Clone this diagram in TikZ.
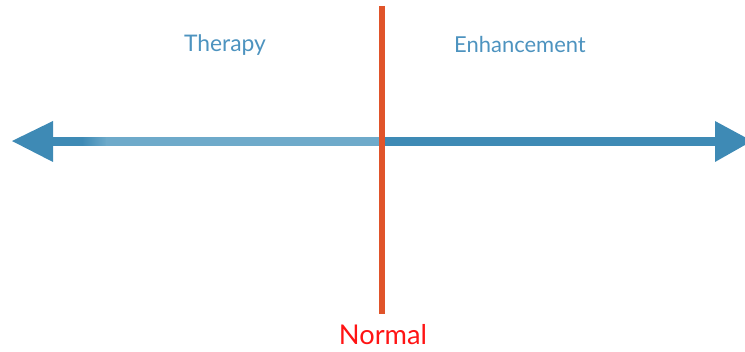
\documentclass[tikz,border=0pt]{standalone}
\usepackage{fontspec}
\setmainfont{Lato}
\definecolor{axisdark}{RGB}{62,138,181}
\definecolor{axislight}{RGB}{110,170,202}
\definecolor{labelblue}{RGB}{77,147,191}
\definecolor{normline}{RGB}{224,84,42}
\definecolor{normtext}{RGB}{255,20,20}

\begin{document}
\begin{tikzpicture}[x=0.02cm, y=0.02cm]
    \useasboundingbox (0,0) rectangle (745,352);
    \clip (0,0) rectangle (745,352);

    % Ends of the axis and of the divider
    \coordinate (lefttip) at (12,211);
    \coordinate (righttip) at (752,211);
    \coordinate (top) at (382,346);
    \coordinate (bottom) at (382,38);

    % Left half of the shaft: dark near the head, fading to light
    \fill[axisdark] (50,206) rectangle (83,215);
    \foreach \i in {0,...,24} {
        \pgfmathtruncatemacro{\pct}{100-4*\i}
        \fill[axisdark!\pct!axislight] (82+\i,206) rectangle (83.5+\i,215);
    }
    \fill[axislight] (106,206) rectangle (382,215);
    % Right half of the shaft
    \fill[axisdark] (382,206) rectangle (718,215);

    % Arrow heads
    \fill[axisdark] (lefttip) -- (53,231) -- (53,190) -- cycle;
    \fill[axisdark] (righttip) -- (715,231) -- (715,190) -- cycle;

    % Divider line marking the normal point
    \draw[normline, line width=0.12cm] (top) -- (bottom);

    % Labels
    \node[text=labelblue, font=\fontsize{13}{15}\selectfont] (therapy) at (225,307) {Therapy};
    \node[text=labelblue, font=\fontsize{12.5}{15}\selectfont] (enhance) at (520,307) {Enhancement};
    \node[text=normtext, font=\fontsize{15.5}{18}\selectfont] (normal) at (383,17) {Normal};
\end{tikzpicture}
\end{document}
